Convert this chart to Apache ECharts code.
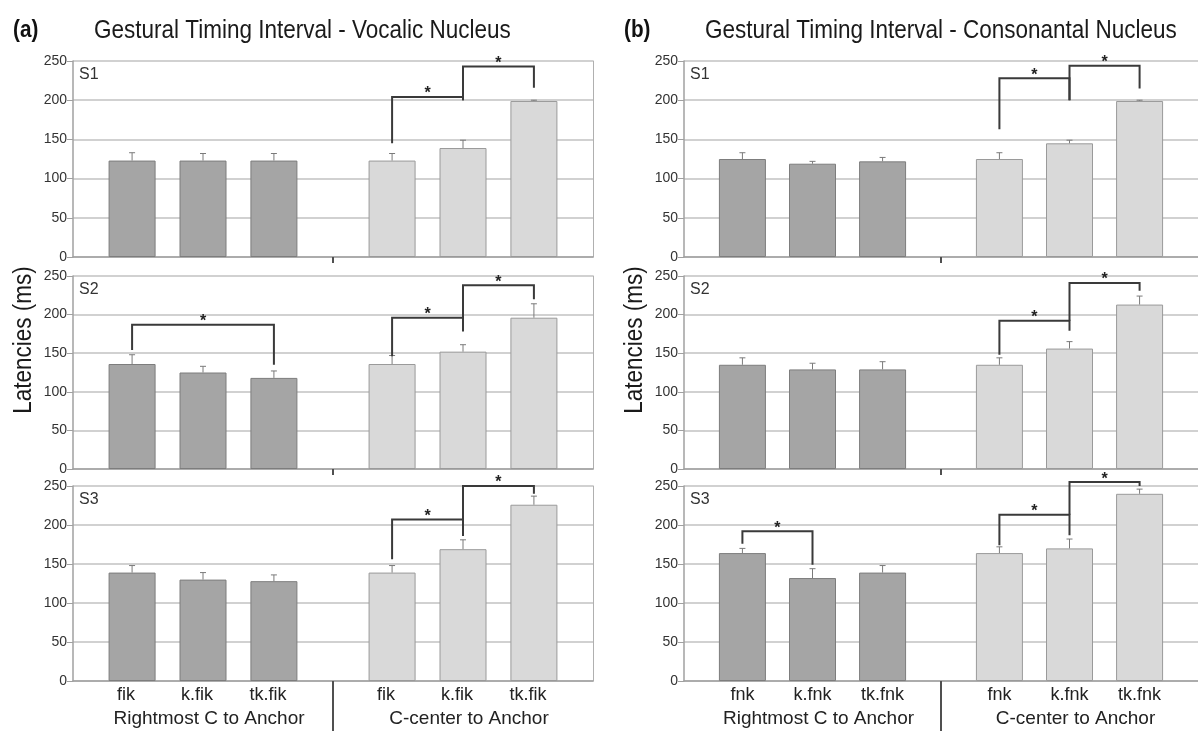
<!DOCTYPE html>
<html><head><meta charset="utf-8">
<script src="https://cdn.jsdelivr.net/npm/echarts@6/dist/echarts.min.js"></script>
<style>html,body{margin:0;padding:0;background:#fff}#c{width:1198px;height:731px}</style>
</head><body><div id="c"></div>
<script>
// ---------- DATA ----------
const panelTags = ['(a)', '(b)'];
const panelTitles = ['Gestural Timing Interval - Vocalic Nucleus', 'Gestural Timing Interval - Consonantal Nucleus'];
const yAxisTitle = 'Latencies (ms)';
const catsA = ['fik', 'k.fik', 'tk.fik'];
const catsB = ['fnk', 'k.fnk', 'tk.fnk'];
const groupNames = ['Rightmost C to Anchor', 'C-center to Anchor'];
const speakers = ['S1', 'S2', 'S3'];
const yTicks = { min: 0, max: 250, interval: 50 };

// Panel (a) – vocalic nucleus; rows = S1, S2, S3
const aRightmost    = [[123, 123, 123], [136, 125, 118], [139, 130, 128]];
const aRightmostErr = [[10, 9, 9], [12, 8, 9], [9, 9, 8]];
const aCcenter      = [[123, 139, 199], [136, 152, 196], [139, 169, 226]];
const aCcenterErr   = [[9, 10, 1], [11, 9, 18], [9, 12, 11]];
// significance brackets: [fromBar, toBar, leftBottom, top, rightBottom] (bars 0-2 rightmost, 3-5 c-center)
const aSig = [
  [[3, 4, 145, 204, 200], [4, 5, 200, 243, 216]],
  [[0, 2, 154, 187, 135], [3, 4, 146, 196, 178], [4, 5, 196, 238, 220]],
  [[3, 4, 156, 207, 186], [4, 5, 207, 250, 240]]
];

// Panel (b) – consonantal nucleus
const bRightmost    = [[125, 119, 122], [135, 129, 129], [164, 132, 139]];
const bRightmostErr = [[8, 3, 5], [9, 8, 10], [6, 12, 9]];
const bCcenter      = [[125, 145, 199], [135, 156, 213], [164, 170, 240]];
const bCcenterErr   = [[8, 4, 1], [9, 9, 11], [8, 12, 6]];
const bSig = [
  [[3, 4, 163, 228, 200], [4, 5, 200, 244, 215]],
  [[3, 4, 148, 192, 179], [4, 5, 192, 241, 231]],
  [[0, 1, 176, 192, 149], [3, 4, 174, 213, 187], [4, 5, 213, 255, 250]]
];

// ---------- LAYOUT ----------
const PANEL_LEFT = [73, 684];
const PANEL_W = 520;
const ROW_TOP = [61, 276, 486];
const ROW_H = [196, 193, 195];
const SLOTS = 22;
const BAR_SLOT = [2, 5, 8, 13, 16, 19];
const DIVIDER_BETWEEN = [10, 11]; // group divider sits between these two slots
const FONT = '"Liberation Sans", Arial, Helvetica, sans-serif';

const panels = [
  { cats: catsA, dark: aRightmost, darkErr: aRightmostErr, light: aCcenter, lightErr: aCcenterErr, sig: aSig, labelPad: [0, 12, 0, 0] },
  { cats: catsB, dark: bRightmost, darkErr: bRightmostErr, light: bCcenter, lightErr: bCcenterErr, sig: bSig, labelPad: [0, 0, 0, 0] }
];

const grid = [], xAxis = [], yAxis = [], series = [], graphic = [];

function errRender(params, api) {
  const x = api.value(0), v = api.value(1), e = api.value(2);
  const p0 = api.coord([x, v]);
  const p1 = api.coord([x, v + e]);
  const st = { stroke: '#7a7a7a', lineWidth: 1 };
  return { type: 'group', children: [
    { type: 'line', shape: { x1: p0[0], y1: p0[1], x2: p1[0], y2: p1[1] }, style: st },
    { type: 'line', shape: { x1: p1[0] - 3, y1: p1[1], x2: p1[0] + 3, y2: p1[1] }, style: st }
  ]};
}
function sigRender(params, api) {
  const l = api.value(0), r = api.value(1);
  const a = api.coord([l, api.value(2)]);
  const t1 = api.coord([l, api.value(3)]);
  const t2 = api.coord([r, api.value(3)]);
  const b = api.coord([r, api.value(4)]);
  return { type: 'group', children: [
    { type: 'polyline', shape: { points: [a, t1, t2, b] }, style: { stroke: '#3a3a3a', lineWidth: 2, fill: null } },
    { type: 'text', x: (t1[0] + t2[0]) / 2, y: t1[1] - 3,
      style: { text: '*', font: 'bold 16px ' + FONT, fill: '#222', align: 'center', verticalAlign: 'middle', textAlign: 'center', textVerticalAlign: 'middle' } }
  ]};
}
function dividerRender(len) {
  return function (params, api) {
    const pa = api.coord([api.value(0), 0]);
    const pb = api.coord([api.value(1), 0]);
    const x = (pa[0] + pb[0]) / 2;
    return { type: 'line', shape: { x1: x, y1: pa[1], x2: x, y2: pa[1] + len },
      style: { stroke: '#505050', lineWidth: 2 } };
  };
}

panels.forEach((P, pi) => {
  const slotLabels = new Array(SLOTS).fill('');
  P.cats.concat(P.cats).forEach((c, i) => { slotLabels[BAR_SLOT[i]] = c; });
  for (let r = 0; r < 3; r++) {
    const g = grid.length;
    grid.push({ left: PANEL_LEFT[pi], top: ROW_TOP[r], width: PANEL_W, height: ROW_H[r], containLabel: false });
    const xi = xAxis.length;
    xAxis.push({
      type: 'category', gridIndex: g, data: slotLabels, boundaryGap: true,
      axisLine: { show: true, lineStyle: { color: '#a0a0a0', width: 1.5 } },
      axisTick: { show: false },
      axisLabel: { show: r === 2, interval: 0, fontSize: 18, color: '#222', margin: 5, fontFamily: FONT, padding: P.labelPad },
      splitLine: { show: false }
    });
    if (r === 2) {
      xAxis.push({
        type: 'category', gridIndex: g, position: 'bottom', data: groupNames,
        axisLine: { show: false }, axisTick: { show: false }, splitLine: { show: false },
        axisLabel: { interval: 0, fontSize: 19, color: '#222', margin: 28, fontFamily: FONT, padding: [0, 0, 0, 12] }
      });
    }
    const yi = yAxis.length;
    yAxis.push({
      type: 'value', gridIndex: g, min: yTicks.min, max: yTicks.max, interval: yTicks.interval,
      axisLine: { show: true, lineStyle: { color: '#a0a0a0', width: 1.5 } },
      axisTick: { show: true, length: 6, lineStyle: { color: '#a0a0a0' } },
      axisLabel: { fontSize: 14, color: '#333', margin: 6, fontFamily: FONT },
      splitLine: { show: true, lineStyle: { color: '#c2c2c2', width: 1.5 } }
    });
    yAxis.push({
      type: 'value', gridIndex: g, position: 'right', min: yTicks.min, max: yTicks.max,
      axisLine: { show: true, lineStyle: { color: '#b0b0b0', width: 1 } },
      axisTick: { show: false }, axisLabel: { show: false }, splitLine: { show: false }
    });
    const darkData = new Array(SLOTS).fill(null);
    const lightData = new Array(SLOTS).fill(null);
    const errData = [];
    for (let k = 0; k < 3; k++) {
      darkData[BAR_SLOT[k]] = P.dark[r][k];
      lightData[BAR_SLOT[k + 3]] = P.light[r][k];
      errData.push([BAR_SLOT[k], P.dark[r][k], P.darkErr[r][k]]);
      errData.push([BAR_SLOT[k + 3], P.light[r][k], P.lightErr[r][k]]);
    }
    series.push({ type: 'bar', xAxisIndex: xi, yAxisIndex: yi, data: darkData, barWidth: 47, barGap: '-100%',
      itemStyle: { color: '#a5a5a5', borderColor: '#7d7d7d', borderWidth: 1 }, silent: true });
    series.push({ type: 'bar', xAxisIndex: xi, yAxisIndex: yi, data: lightData, barWidth: 47, barGap: '-100%',
      itemStyle: { color: '#d9d9d9', borderColor: '#9a9a9a', borderWidth: 1 }, silent: true });
    series.push({ type: 'custom', xAxisIndex: xi, yAxisIndex: yi, data: errData, renderItem: errRender,
      encode: { x: 0, y: [1, 2] }, silent: true, z: 3 });
    series.push({ type: 'custom', xAxisIndex: xi, yAxisIndex: yi, clip: false,
      data: P.sig[r].map(s => [BAR_SLOT[s[0]], BAR_SLOT[s[1]], s[2], s[3], s[4]]),
      renderItem: sigRender, encode: { x: [0, 1], y: [2, 3, 4] }, silent: true, z: 4 });
    series.push({ type: 'custom', xAxisIndex: xi, yAxisIndex: yi, clip: false,
      data: [DIVIDER_BETWEEN], renderItem: dividerRender(r === 2 ? 52 : 6), encode: { x: [0, 1] }, silent: true, z: 5 });
    graphic.push({ type: 'text', x: PANEL_LEFT[pi] + 6, y: ROW_TOP[r] + 14,
      style: { text: speakers[r], font: '16px ' + FONT, fill: '#333', align: 'left', verticalAlign: 'middle', textAlign: 'left', textVerticalAlign: 'middle' } });
  }
  const off = PANEL_LEFT[pi] - PANEL_LEFT[0];
  graphic.push({ type: 'text', x: 13 + off, y: 31, scaleX: 0.9,
    style: { text: panelTags[pi], font: 'bold 23px ' + FONT, fill: '#111', align: 'left', verticalAlign: 'middle', textAlign: 'left', textVerticalAlign: 'middle' } });
  graphic.push({ type: 'text', x: 94 + off, y: 31, scaleX: 0.9,
    style: { text: panelTitles[pi], font: '25px ' + FONT, fill: '#1a1a1a', align: 'left', verticalAlign: 'middle', textAlign: 'left', textVerticalAlign: 'middle' } });
  graphic.push({ type: 'text', x: 24 + off, y: 340, rotation: Math.PI / 2, scaleX: 0.9,
    style: { text: yAxisTitle, font: '25px ' + FONT, fill: '#1a1a1a', align: 'center', verticalAlign: 'middle', textAlign: 'center', textVerticalAlign: 'middle' } });
});

const chart = echarts.init(document.getElementById('c'), null, { renderer: 'canvas' });
chart.setOption({ animation: false, backgroundColor: '#fff', grid, xAxis, yAxis, series, graphic });
</script></body></html>
